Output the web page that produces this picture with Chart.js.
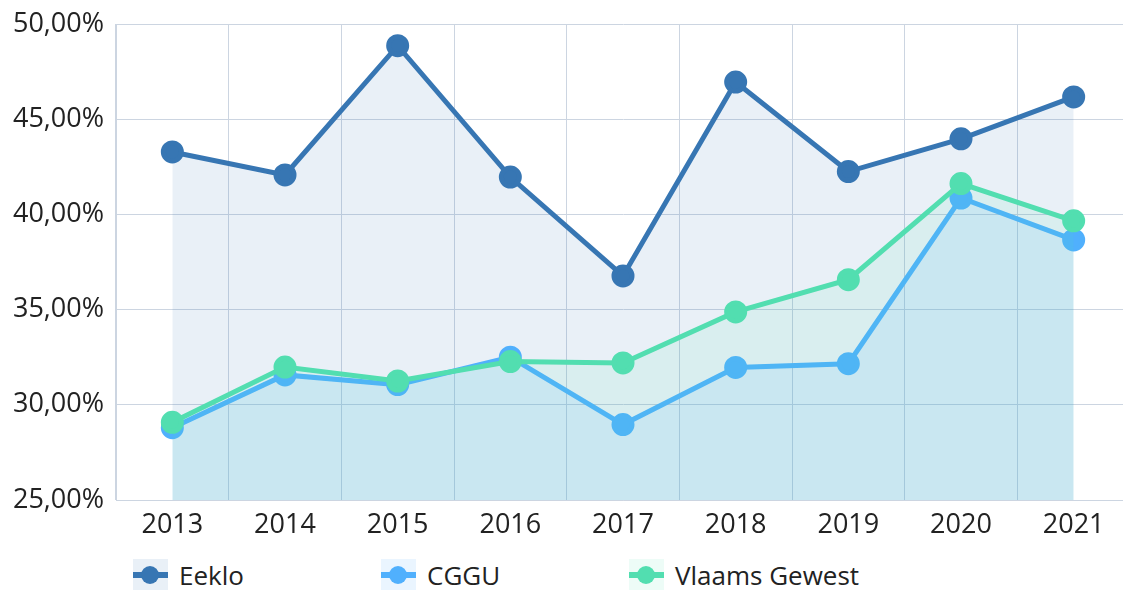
<!DOCTYPE html>
<html>
<head>
<meta charset="utf-8">
<script src="https://cdn.jsdelivr.net/npm/chart.js@4"></script>
<style>
    html, body { margin: 0; padding: 0; background: #fff; overflow: hidden; }
    #wrap { position: relative; width: 1144px; height: 545px; }
    #legend { display: flex; padding-left: 133px; margin-top: 12px; font-family: 'Open Sans', sans-serif; font-size: 26px; color: #222; }
    .item { width: 248px; display: flex; align-items: center; }
    .sym { position: relative; width: 35px; height: 32px; margin-right: 11px; }
    .sym .ln { position: absolute; left: 0; right: 0; top: 13px; height: 6px; }
    .sym .dot { position: absolute; left: 8px; top: 7px; width: 18px; height: 18px; border-radius: 50%; }
</style>
</head>
<body>
<div id="wrap"><canvas id="chart"></canvas></div>
<div id="legend"></div>
<script>
const years = ['2013', '2014', '2015', '2016', '2017', '2018', '2019', '2020', '2021'];
const eeklo = [43.28, 42.07, 48.86, 41.96, 36.77, 46.95, 42.25, 43.97, 46.17];
const cggu = [28.8, 31.57, 31.06, 32.5, 28.96, 31.96, 32.16, 40.86, 38.66];
const vlaams = [29.08, 31.98, 31.25, 32.27, 32.2, 34.88, 36.57, 41.62, 39.66];
const seriesNames = ['Eeklo', 'CGGU', 'Vlaams Gewest'];
const lineColors = ['#3776b3', '#50b0fd', '#52deb0'];
const fillColors = ['rgba(55,118,179,0.11)', 'rgba(80,176,253,0.12)', 'rgba(82,222,176,0.1)'];

const font = { family: "'Open Sans', sans-serif", size: 27 };
// small lineHeight so the top label does not push the plot area down
const yFont = { family: "'Open Sans', sans-serif", size: 27, lineHeight: 0.6 };
const gridColor = '#ccd5e1';

// Build datasets
const values = [eeklo, cggu, vlaams];
const datasets = values.map((vals, i) => ({
    label: seriesNames[i],
    data: vals,
    borderColor: lineColors[i],
    backgroundColor: fillColors[i],
    pointBackgroundColor: lineColors[i],
    pointBorderColor: lineColors[i],
    pointRadius: 9,
    pointHoverRadius: 9,
    borderWidth: 5,
    fill: 'start',
    tension: 0,
    order: 2 - i
}));

const ctx = document.getElementById('chart').getContext('2d');
const chart = new Chart(ctx, {
    type: 'line',
    data: { labels: years, datasets: datasets },
    options: {
        responsive: true,
        maintainAspectRatio: false,
        animation: false,
        layout: { padding: { top: 24, right: 0, left: 0, bottom: 0 } },
        plugins: {
            legend: { display: false },
            tooltip: { enabled: false }
        },
        scales: {
            x: {
                offset: true,
                grid: { offset: true, color: gridColor, drawTicks: false },
                border: { color: gridColor },
                ticks: { color: '#222', font: font, padding: 9, maxRotation: 0 },
                afterFit: (axis) => { axis.height = 45; }
            },
            y: {
                min: 25,
                max: 50,
                grid: { color: gridColor, drawTicks: false },
                border: { color: gridColor },
                ticks: {
                    stepSize: 5,
                    color: '#222',
                    font: yFont,
                    padding: 12,
                    callback: (v) => v.toFixed(2).replace('.', ',') + '%'
                },
                afterFit: (axis) => { axis.width = 116; }
            }
        }
    }
});

// Legend
const legend = document.getElementById('legend');
seriesNames.forEach((name, i) => {
    const item = document.createElement('div');
    item.className = 'item';
    item.innerHTML = '<div class="sym" style="background:' + fillColors[i] + '">' +
        '<div class="ln" style="background:' + lineColors[i] + '"></div>' +
        '<div class="dot" style="background:' + lineColors[i] + '"></div></div>' +
        '<span>' + name + '</span>';
    legend.appendChild(item);
});
</script>
</body>
</html>
